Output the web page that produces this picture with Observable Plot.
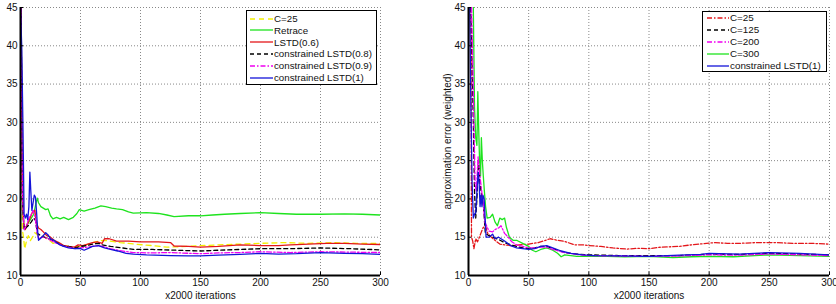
<!DOCTYPE html>
<html>
<head>
<meta charset="utf-8">
<script src="https://cdn.jsdelivr.net/npm/d3@7"></script>
<script src="https://cdn.jsdelivr.net/npm/@observablehq/plot@0.6"></script>
<style>
  body { margin: 0; background: #fff; font-family: "Liberation Sans", Arial, sans-serif; }
  #wrap { position: relative; width: 836px; height: 304px; overflow: hidden; }
  .panel { position: absolute; top: 0; }
  .legend { position: absolute; background: #fff; border: 1.5px solid #000; box-sizing: border-box; font-family: "Liberation Sans", Arial, sans-serif; font-size: 10px; color: #111; }
  .row { position: absolute; left: 0; height: 12px; display: flex; align-items: center; white-space: nowrap; }
  .row svg { display: block; flex: none; }
</style>
</head>
<body>
<div id="wrap"></div>
<script>
// ---------- tick labels ----------
const xTicks = [0, 50, 100, 150, 200, 250, 300];
const yTicks = [10, 15, 20, 25, 30, 35, 40, 45];
const xLabel = "x2000 iterations";
const yLabel = "approximation error (weighted)";

// ---------- left panel series ----------
const leftNames = ["C=25", "Retrace", "LSTD(0.6)", "constrained LSTD(0.8)", "constrained LSTD(0.9)", "constrained LSTD(1)"];
const leftC25 = [[0.5,45],[1.5,16],[2.5,15],[3.5,13.5],[5,14.5],[6.5,15.2],[8,14.5],[10,15],[12,15.6],[14,15.3],[17,15.0],[20,15.0],[24,14.6],[27,14.2],[30,14.3],[35,14.0],[40,13.8],[45,13.7],[50,13.8],[55,14.0],[60,14.3],[65,14.5],[70,14.6],[83,14.3],[95,14.1],[110,13.9],[122,13.7],[140,13.8],[150,13.9],[165,14.0],[183,14.1],[200,14.2],[220,14.3],[240,14.2],[260,14.3],[280,14.2],[300,14.2]];
const leftRetrace = [[0.5,45],[1.5,25],[2.5,17],[3.5,16],[5,16.5],[7,17],[9,17.5],[11,18],[13,19.5],[14,20.1],[15,19.5],[17,19],[19,18.8],[21,18.6],[23,18.7],[25,17.8],[27,17.4],[30,17.6],[33,17.4],[36,17.6],[40,17.3],[44,17.6],[47,18.1],[49,18.6],[53,18.4],[57,18.6],[62,18.8],[67,19.1],[71,19.0],[76,18.8],[80,18.7],[85,18.6],[90,18.3],[94,18.15],[105,18.2],[115,18.1],[122,17.9],[128,17.7],[140,17.8],[150,17.8],[160,17.9],[170,18.0],[183,18.1],[200,18.2],[215,18.1],[230,18.0],[250,18.0],[270,18.05],[285,18.0],[300,17.9]];
const leftLSTD06 = [[0.5,45],[1.5,22],[2.5,17],[4,16],[6,16.8],[8,17.5],[10,18.3],[12,18.5],[13,17],[15,16.2],[17,16],[19,15.7],[22,15.2],[25,15.0],[28,14.6],[32,14.3],[36,13.9],[40,13.8],[45,13.7],[48,14.0],[52,13.9],[56,14.1],[60,14.3],[64,14.4],[68,14.2],[70,14.8],[74,14.8],[80,14.5],[90,14.5],[100,14.4],[115,14.4],[125,14.3],[128,13.85],[140,13.8],[150,13.7],[165,13.8],[183,14.0],[200,13.9],[215,13.9],[225,14.0],[240,14.1],[255,14.2],[270,14.2],[285,14.1],[300,14.05]];
const leftC08 = [[0.5,45],[1.5,20],[3,16],[5,16.3],[7,16.6],[9,17],[11,17.5],[12.5,17.2],[14,15.5],[17,15.2],[20,15.0],[25,14.7],[30,14.3],[35,13.9],[40,13.8],[45,13.6],[50,13.8],[55,13.9],[60,14.1],[65,14.2],[68,14.0],[75,13.8],[85,13.6],[94,13.4],[110,13.4],[130,13.3],[150,13.2],[165,13.3],[183,13.4],[200,13.5],[225,13.5],[250,13.6],[275,13.5],[300,13.35]];
const leftC09 = [[0.5,45],[1.5,21],[3,16],[5,16.5],[7,17.5],[9,18],[10.5,18.5],[12,17.8],[13.5,16],[15,14.8],[18,15.0],[20,15.0],[25,14.6],[30,14.2],[35,13.9],[40,13.7],[45,13.5],[50,13.6],[55,13.7],[60,13.8],[65,13.9],[68,13.8],[75,13.5],[81,13.3],[94,13.0],[110,12.95],[125,13.0],[140,12.9],[150,12.85],[165,12.95],[183,13.0],[200,13.1],[225,13.0],[250,13.1],[275,13.05],[300,13.0]];
const leftC1 = [[0,45],[1,40],[2,30],[3,18],[4,17.5],[5,18],[6,17.3],[7,19],[7.8,23.5],[8.6,21],[9.5,18.5],[10.5,19.5],[11.5,20.5],[12.5,20.2],[13.5,18],[14.4,15.6],[15,14.6],[17,14.9],[19,15.2],[21,15.6],[23,15.3],[25,14.8],[28,14.6],[30,14.3],[33,14.0],[36,13.8],[40,13.6],[45,13.5],[50,13.5],[53,13.3],[56,13.5],[60,13.8],[65,13.9],[70,13.6],[75,13.4],[81,13.2],[88,12.9],[94,12.8],[105,12.7],[125,12.6],[140,12.55],[150,12.55],[165,12.65],[183,12.75],[200,12.9],[215,12.8],[230,12.85],[250,13.0],[270,12.9],[285,12.85],[300,12.75]];

// ---------- right panel series ----------
const rightNames = ["C=25", "C=125", "C=200", "C=300", "constrained LSTD(1)"];
const rightC25 = [[2,45],[2.5,15],[3.5,14.5],[4.5,13.5],[6,14.8],[7.5,14.4],[9,15],[10.5,15.6],[12,16.2],[14,16.5],[16,15.5],[19,15],[22,14.6],[26,14.1],[30,14.0],[36,13.9],[42,14.0],[50,14.1],[58,14.3],[64,14.6],[68,14.8],[74,14.6],[80,14.45],[88,14.0],[95,14.0],[100,13.9],[110,13.8],[120,13.6],[132,13.45],[140,13.55],[150,13.5],[160,13.7],[175,13.8],[185,14.0],[195,14.15],[205,14.3],[215,14.2],[225,14.2],[240,14.3],[255,14.3],[270,14.2],[285,14.2],[300,14.1]];
const rightC125 = [[2,45],[3,38],[4,30],[5,21],[6,17.5],[7,20],[8.3,25],[9.5,22],[10.5,21],[11.5,20],[12.5,19],[14,15.5],[17,15.2],[20,15.0],[25,14.7],[30,14.3],[35,14.0],[40,13.8],[45,13.6],[50,13.5],[55,13.6],[60,13.8],[65,13.8],[70,13.5],[80,13.0],[90,12.8],[100,12.7],[125,12.6],[150,12.6],[175,12.6],[200,12.8],[225,12.75],[250,12.9],[275,12.8],[300,12.7]];
const rightC200 = [[2.5,45],[3.5,38],[4.5,30],[5.5,22],[6.5,21],[8,25.5],[9.5,23],[11,21],[12.5,19],[13.5,17],[15,16.5],[17,15.8],[20,15.7],[22,16],[25,16.2],[27,16.5],[30,15.5],[33,15.0],[36,14.4],[40,14.0],[45,13.8],[50,13.6],[55,13.6],[60,13.7],[65,13.7],[70,13.4],[80,13.0],[90,12.75],[100,12.6],[125,12.55],[150,12.5],[175,12.55],[200,12.7],[225,12.65],[250,12.8],[275,12.7],[300,12.6]];
const rightC300 = [[4,45],[5,32],[6,28],[7,27],[7.75,34],[8.5,29],[9.2,25],[10,23],[10.7,28],[11.5,25],[12.3,23],[13.2,21],[14.2,19],[15.5,17.5],[18,17.6],[20,18],[22,17],[24,16.5],[26,17.5],[28,17.3],[30,17.5],[31.5,16.3],[34,15],[37,14.6],[40,14.6],[45,14.2],[50,13.8],[53,13.3],[56,13.1],[60,13.4],[65,13.6],[70,13.3],[74,12.9],[77,12.45],[80,12.7],[90,12.5],[100,12.5],[115,12.5],[130,12.45],[150,12.5],[170,12.35],[185,12.45],[200,12.5],[220,12.45],[250,12.7],[275,12.6],[300,12.5]];
const rightC1 = [[1,45],[2,32],[3,22],[4,17.5],[5,18],[6,18.2],[7,21],[8,23.5],[8.9,21.9],[9.6,19],[10.4,20.5],[11.2,19],[12,20.5],[13,20],[14,17],[14.6,15],[17,15],[20,15.4],[22,14.8],[25,15],[30,14.5],[35,13.9],[40,13.6],[45,13.5],[50,13.4],[55,13.5],[60,13.8],[65,13.9],[70,13.6],[77,13.2],[85,12.9],[95,12.7],[105,12.6],[125,12.55],[150,12.5],[175,12.65],[193,12.75],[200,12.9],[225,12.8],[250,13.0],[275,12.9],[300,12.7]];

// ---------- styles ----------
const styles = {
  yellow:  {stroke: "#f2f000", strokeDasharray: "5,4"},
  green:   {stroke: "#1ee31e"},
  red:     {stroke: "#e3161a"},
  black:   {stroke: "#000", strokeDasharray: "4,3"},
  magenta: {stroke: "#f000f0", strokeDasharray: "5,2,1.5,2"},
  blue:    {stroke: "#1414d8"},
  redDD:   {stroke: "#e3161a", strokeDasharray: "5,2,1.5,2"}
};

const leftSeries = [
  [leftC25, "yellow"], [leftRetrace, "green"], [leftLSTD06, "red"],
  [leftC08, "black"], [leftC09, "magenta"], [leftC1, "blue"]
];
const rightSeries = [
  [rightC25, "redDD"], [rightC125, "black"], [rightC200, "magenta"],
  [rightC300, "green"], [rightC1, "blue"]
];
const leftOrder = [1, 0, 2, 3, 4, 5];
const rightOrder = [0, 3, 1, 2, 4];

function panel(series, order, ml, mr, yLabelOffset) {
  const marks = [
    Plot.gridX(xTicks, {stroke: "#888", strokeOpacity: 1, strokeDasharray: "1,2"}),
    Plot.gridY(yTicks, {stroke: "#888", strokeOpacity: 1, strokeDasharray: "1,2"})
  ];
  for (const i of order) {
    const [data, st] = series[i];
    marks.push(Plot.line(data, {x: d => d[0], y: d => d[1], strokeWidth: 1.3, clip: true, ...styles[st]}));
  }
  marks.push(
    Plot.ruleX(xTicks, {y1: 10, y2: 10.45, stroke: "#000", strokeWidth: 1}),
    Plot.ruleY(yTicks, {x1: 0, x2: 2.6, stroke: "#000", strokeWidth: 1}),
    Plot.ruleX([0], {stroke: "#000", strokeWidth: 2}),
    Plot.ruleY([10], {stroke: "#000", strokeWidth: 2})
  );
  return Plot.plot({
    width: 418, height: 304,
    marginLeft: ml, marginRight: mr, marginTop: 7, marginBottom: 29,
    style: {fontFamily: "'Liberation Sans', Arial, sans-serif", fontSize: "10px", color: "#111", background: "#fff", overflow: "visible"},
    x: {domain: [0, 300], ticks: xTicks, tickSize: 0, tickPadding: 3, label: xLabel, labelAnchor: "center", labelArrow: "none", labelOffset: 23},
    y: {domain: [10, 45], ticks: yTicks, tickSize: 0, tickPadding: 3, label: yLabel, labelAnchor: "center", labelArrow: "none", labelOffset: yLabelOffset},
    marks
  });
}

const wrap = document.getElementById("wrap");
const p1 = panel(leftSeries, leftOrder, 20, 38, 32);
p1.classList.add("panel"); p1.style.left = "0px";
const p2 = panel(rightSeries, rightOrder, 50, 7, 25);
p2.classList.add("panel"); p2.style.left = "418px";
wrap.appendChild(p1);
wrap.appendChild(p2);

// ---------- legends ----------
function legend(names, series, box, rowTop, rowStep, lineX0, lineX1, textX, longest, targetWidth) {
  const div = document.createElement("div");
  div.className = "legend";
  Object.assign(div.style, {left: box[0] + "px", top: box[1] + "px", width: box[2] + "px", height: box[3] + "px"});
  const spans = [];
  names.forEach((name, i) => {
    const st = styles[series[i][1]];
    const row = document.createElement("div");
    row.className = "row";
    row.style.top = (rowTop + i * rowStep - 6) + "px";
    const ns = "http://www.w3.org/2000/svg";
    const svg = document.createElementNS(ns, "svg");
    svg.setAttribute("width", textX); svg.setAttribute("height", 12);
    const ln = document.createElementNS(ns, "line");
    ln.setAttribute("x1", lineX0); ln.setAttribute("x2", lineX1);
    ln.setAttribute("y1", 6); ln.setAttribute("y2", 6);
    ln.setAttribute("stroke", st.stroke); ln.setAttribute("stroke-width", 1.3);
    if (st.strokeDasharray) ln.setAttribute("stroke-dasharray", st.strokeDasharray);
    svg.appendChild(ln);
    row.appendChild(svg);
    const sp = document.createElement("span");
    sp.textContent = name;
    row.appendChild(sp);
    spans.push(sp);
    div.appendChild(row);
  });
  wrap.appendChild(div);
  // fit the font so the longest entry spans the width seen in the reference
  const w = spans[longest].getBoundingClientRect().width;
  if (w > 0) div.style.fontSize = (10 * targetWidth / w).toFixed(2) + "px";
}
legend(leftNames, leftSeries, [246, 10, 131, 75], 7.5, 11.8, 3, 26, 27, 3, 98);
legend(rightNames, rightSeries, [702, 11, 125, 61], 5.5, 12, 4, 26, 27, 4, 91);
</script>
</body>
</html>
